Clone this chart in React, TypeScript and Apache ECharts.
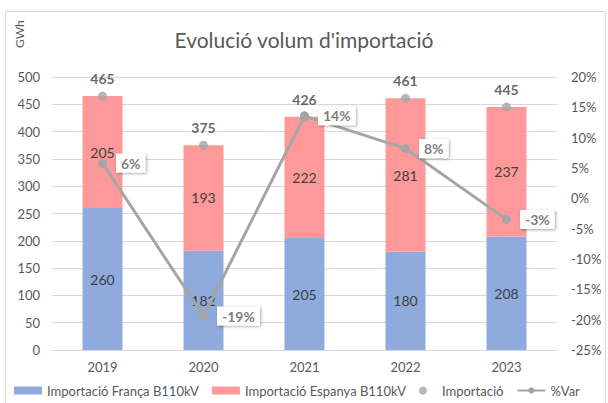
import React, { useEffect, useRef } from "react";
import * as echarts from "echarts";

const years = ["2019", "2020", "2021", "2022", "2023"];
const franca = [260, 182, 205, 180, 208];
const espanya = [205, 193, 222, 281, 237];
const importacio = [465, 375, 426, 461, 445];
const pctVar = [5.8, -19.4, 13.6, 8.2, -3.47];

export default function App() {
  const ref = useRef<HTMLDivElement>(null);
  useEffect(() => {
    const chart = echarts.init(ref.current!, null, { renderer: "svg" });
    const font = "Lato, 'Open Sans', sans-serif";
    chart.setOption({
      animation: false,
      textStyle: { fontFamily: font },
      title: {
        text: "Evolució volum d'importació",
        left: "center",
        top: 24,
        textStyle: { fontSize: 21, fontWeight: "normal", color: "#595959", fontFamily: font },
      },
      graphic: [
        {
          type: "rect",
          shape: { x: 5.5, y: 11.5, width: 600, height: 400 },
          style: { fill: "none", stroke: "#d9d9d9", lineWidth: 1 },
          silent: true,
        },
        {
          type: "text",
          x: 13,
          y: 48,
          rotation: Math.PI / 2,
          style: { text: "GWh", fill: "#595959", fontSize: 12, fontFamily: font },
        },
      ],
      legend: {
        bottom: 6,
        left: 14,
        width: 594,
        padding: 0,
        itemGap: 13,
        itemWidth: 28,
        itemHeight: 8,
        textStyle: { fontSize: 13, color: "#595959", fontFamily: font },
        data: [
          { name: "Importació França B110kV", icon: "rect" },
          { name: "Importació Espanya B110kV", icon: "rect" },
          { name: "Importació", icon: "circle" },
          { name: "%Var" },
        ],
      },
      grid: { left: 52, right: 51, top: 77, bottom: 53 },
      xAxis: {
        type: "category",
        data: years,
        axisLine: { lineStyle: { color: "#d9d9d9" } },
        axisTick: { show: false },
        axisLabel: { color: "#595959", fontSize: 13, margin: 10 },
      },
      yAxis: [
        {
          type: "value",
          min: 0,
          max: 500,
          interval: 50,
          axisLine: { show: false },
          axisTick: { show: false },
          splitLine: { lineStyle: { color: "#d9d9d9" } },
          axisLabel: { color: "#595959", fontSize: 13, margin: 12 },
        },
        {
          type: "value",
          min: -25,
          max: 20,
          interval: 5,
          axisLine: { show: false },
          axisTick: { show: false },
          splitLine: { show: false },
          axisLabel: { color: "#595959", fontSize: 13, margin: 14, formatter: "{value}%" },
        },
      ],
      series: [
        {
          name: "Importació França B110kV",
          type: "bar",
          stack: "t",
          data: franca,
          barWidth: 40,
          itemStyle: { color: "#8faadc" },
          label: { show: true, position: "inside", color: "#404040", fontSize: 14 },
        },
        {
          name: "Importació Espanya B110kV",
          type: "bar",
          stack: "t",
          data: espanya,
          barWidth: 40,
          itemStyle: { color: "#ff9999" },
          label: { show: true, position: "inside", color: "#404040", fontSize: 14 },
        },
        {
          name: "Importació",
          type: "scatter",
          data: importacio,
          symbol: "circle",
          symbolSize: 9,
          itemStyle: { color: "#a5a5a5" },
          label: {
            show: true,
            position: "top",
            distance: 6,
            color: "#404040",
            fontSize: 14,
            fontWeight: "bold",
          },
          z: 5,
        },
        {
          name: "%Var",
          type: "line",
          yAxisIndex: 1,
          data: pctVar,
          symbol: "circle",
          symbolSize: 9,
          lineStyle: { color: "#a5a5a5", width: 3 },
          itemStyle: { color: "#a5a5a5" },
          z: 6,
          label: {
            show: true,
            position: "right",
            distance: 9,
            formatter: (p: any) => Math.round(p.value) + "%",
            color: "#7f7f7f",
            fontSize: 14,
            fontWeight: "bold",
            backgroundColor: "#ffffff",
            padding: [3, 5, 2, 5],
            shadowColor: "rgba(0,0,0,0.35)",
            shadowBlur: 3,
            shadowOffsetX: 1,
            shadowOffsetY: 1,
          },
        },
      ],
    });
    return () => chart.dispose();
  }, []);
  return (
    <div
      ref={ref}
      style={{ position: "absolute", left: 0, top: 0, width: 608, height: 403 }}
    />
  );
}
